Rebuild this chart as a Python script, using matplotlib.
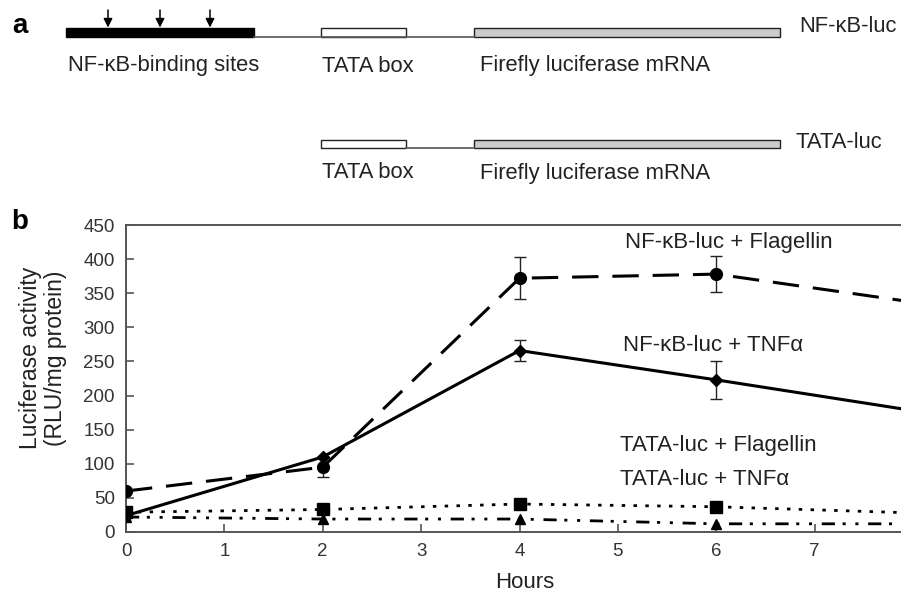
import matplotlib
matplotlib.use("Agg")
import matplotlib.pyplot as plt
from matplotlib.patches import Rectangle

plt.rcParams['font.family'] = ['Liberation Sans', 'DejaVu Sans']
plt.rcParams['lines.scale_dashes'] = False

# Données (panneau b)
hours = [0, 2, 4, 6, 8]
nfkb_flag = [60, 95, 372, 378, 337]
nfkb_flag_err = [0, 14, 31, 26, 0]
nfkb_tnf = [24, 110, 266, 223, 178]
nfkb_tnf_err = [0, 0, 16, 28, 0]
tata_flag = [29, 33, 41, 37, 28]
tata_tnf = [22, 19, 19, 12, 12]

series_labels = ["NF-\u03baB-luc + Flagellin", "NF-\u03baB-luc + TNF\u03b1",
                 "TATA-luc + Flagellin", "TATA-luc + TNF\u03b1"]
yticks = [0, 50, 100, 150, 200, 250, 300, 350, 400, 450]
xticks = [0, 1, 2, 3, 4, 5, 6, 7]

fig = plt.figure(figsize=(9.01, 5.94), dpi=100)

# Panneau a : schéma des constructions (coordonnées en pixels)
ax0 = fig.add_axes([0, 0, 1, 1])
ax0.set_xlim(0, 901)
ax0.set_ylim(594, 0)
ax0.axis('off')

# ligne 1 : NF-kB-luc
ax0.plot([254, 474], [37, 37], color='#555555', lw=1.2)
ax0.add_patch(Rectangle((66, 28), 188, 9, facecolor='black', edgecolor='black', lw=1))
ax0.add_patch(Rectangle((321, 28), 85, 9, facecolor='white', edgecolor='#222222', lw=1))
ax0.add_patch(Rectangle((474, 28), 306, 9, facecolor='#cccccc', edgecolor='#222222', lw=1))
for x in [108, 160, 210]:
    ax0.annotate('', xy=(x, 27.5), xytext=(x, 10),
                 arrowprops=dict(arrowstyle='-|>', color='black', lw=1.1,
                                 mutation_scale=13, shrinkA=0, shrinkB=0))
ax0.text(68, 66, "NF-\u03baB-binding sites", fontsize=15.8, va='center', ha='left', color='#222222')
ax0.text(322, 66, "TATA box", fontsize=15.8, va='center', ha='left', color='#222222')
ax0.text(480, 66, "Firefly luciferase mRNA", fontsize=15.8, va='center', ha='left', color='#222222')
ax0.text(799, 27, "NF-\u03baB-luc", fontsize=15.8, va='center', ha='left', color='#222222')

# ligne 2 : TATA-luc
ax0.plot([406, 474], [148, 148], color='#555555', lw=1.2)
ax0.add_patch(Rectangle((321, 140), 85, 8, facecolor='white', edgecolor='#222222', lw=1))
ax0.add_patch(Rectangle((474, 140), 306, 8, facecolor='#cccccc', edgecolor='#222222', lw=1))
ax0.text(322, 173, "TATA box", fontsize=15.8, va='center', ha='left', color='#222222')
ax0.text(480, 173, "Firefly luciferase mRNA", fontsize=15.8, va='center', ha='left', color='#222222')
ax0.text(795, 142, "TATA-luc", fontsize=15.8, va='center', ha='left', color='#222222')

ax0.text(20, 26, "a", fontsize=20, fontweight='bold', va='center', ha='center')
ax0.text(20, 222, "b", fontsize=20, fontweight='bold', va='center', ha='center')
ax0.text(43, 358, "Luciferase activity\n(RLU/mg protein)", fontsize=16.5, rotation=90,
         va='center', ha='center', multialignment='center', color='#222222', linespacing=1.15)
ax0.text(525, 582, "Hours", fontsize=16, va='center', ha='center', color='#222222')

# Panneau b : cinétique
ax = fig.add_axes([126 / 901, 62 / 594, 787 / 901, 307 / 594])
ax.set_facecolor('none')

ax.errorbar(hours, nfkb_flag, yerr=nfkb_flag_err, color='black', lw=2.2,
            dashes=(19, 10), marker='o', markersize=8.5, elinewidth=1, capsize=4,
            ecolor='#222222', zorder=5)
ax.errorbar(hours, nfkb_tnf, yerr=nfkb_tnf_err, color='black', lw=2.2,
            marker='D', markersize=6, elinewidth=1, capsize=4,
            ecolor='#222222', zorder=5)
ax.plot(hours, tata_flag, color='black', lw=2, dashes=(2.5, 6),
        marker='s', markersize=9, zorder=4)
ax.plot(hours, tata_tnf, color='black', lw=2, dashes=(9.5, 5.5, 2.2, 7, 2.2, 7),
        marker='^', markersize=7.5, zorder=4)

ax.text(5.07, 424, series_labels[0], fontsize=16, va='center', ha='left', color='#222222')
ax.text(5.05, 274, series_labels[1], fontsize=16, va='center', ha='left', color='#222222')
ax.text(5.02, 127, series_labels[2], fontsize=16, va='center', ha='left', color='#222222')
ax.text(5.02, 77, series_labels[3], fontsize=16, va='center', ha='left', color='#222222')

ax.set_xlim(0, 8)
ax.set_ylim(0, 450)
ax.set_xticks(xticks)
ax.set_yticks(yticks)
ax.tick_params(direction='in', length=6, width=1.2, color='#555555',
               labelsize=13.5, labelcolor='#333333', pad=8)
for side in ['left', 'bottom', 'top', 'right']:
    ax.spines[side].set_color('#555555')
    ax.spines[side].set_linewidth(1.4)

fig.savefig("out.png", dpi=100)
